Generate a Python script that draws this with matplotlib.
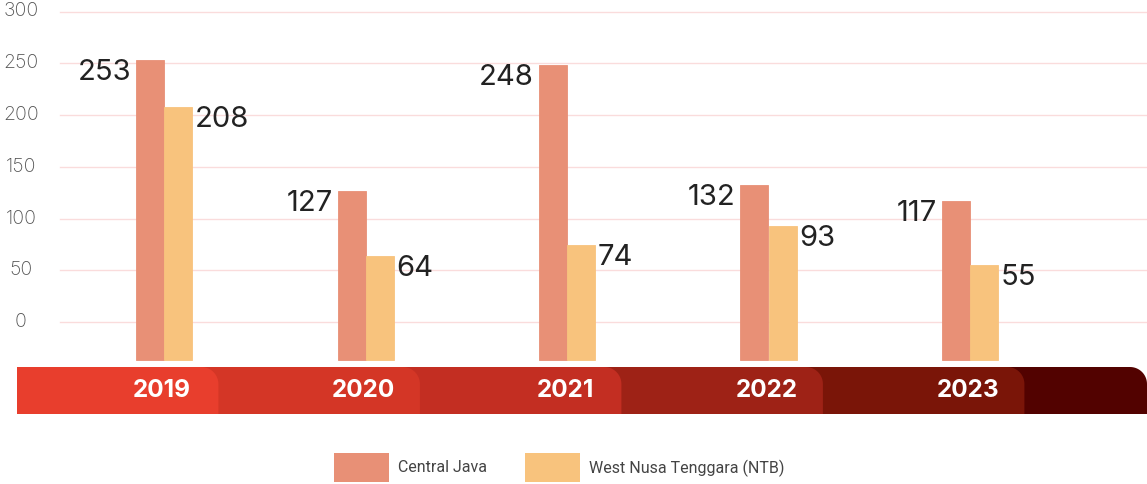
import numpy as np
import matplotlib
matplotlib.use('Agg')
import matplotlib.pyplot as plt
from matplotlib.patches import Rectangle, Polygon
import matplotlib.transforms as mtransforms

# ---- data ----
years = ['2019', '2020', '2021', '2022', '2023']
central_java = [253, 127, 248, 132, 117]
ntb = [208, 64, 74, 93, 55]
y_ticks = [0, 50, 100, 150, 200, 250, 300]
series_names = ['Central Java', 'West Nusa Tenggara (NTB)']

# ---- style ----
c_cj = '#E89076'
c_ntb = '#F8C37D'
band_colors = ['#E83E2D', '#D43626', '#C32E22', '#9E2216', '#7A1508', '#520200']
grid_c = '#FADCDC'

W, H = 1147, 484
fig = plt.figure(figsize=(W / 100, H / 100), dpi=100)
ax = fig.add_axes([0, 0, 1, 1])
ax.axis('off')

x0px, xstep = 164.0, 201.5      # pixel of first category, px per category
y0px, yscale = 322.0, 1.035     # pixel row of zero, px per unit
ax.set_xlim((0 - x0px) / xstep, (W - x0px) / xstep)
ax.set_ylim((y0px - H) / yscale, y0px / yscale)

blend = mtransforms.blended_transform_factory(ax.transAxes, ax.transData)

# gridlines + tick labels
for t in y_ticks:
    ax.axhline(t, xmin=60 / W, xmax=1, color=grid_c, lw=1, zorder=1)
    ax.text(21 / W, t, str(t), transform=blend, ha='center', va='center',
            fontsize=14, color='#555555', family='Inter', fontweight='light')

# bars
x = np.arange(len(years))
bw = 28 / xstep
base = -37
ax.bar(x - bw / 2, np.array(central_java) - base, bottom=base, width=bw,
       color=c_cj, edgecolor=c_cj, linewidth=0.6, zorder=3)
ax.bar(x + bw / 2, np.array(ntb) - base, bottom=base, width=bw,
       color=c_ntb, edgecolor=c_ntb, linewidth=0.6, zorder=3.1)

dx = 5 / xstep
for i in range(len(years)):
    ax.text(x[i] - bw - dx, central_java[i] + 1, str(central_java[i]),
            ha='right', va='top', fontsize=21, color='#222222', family='Inter',
            zorder=4)
    ax.text(x[i] + bw + dx * 0.6, ntb[i] + 1, str(ntb[i]),
            ha='left', va='top', fontsize=21, color='#222222', family='Inter',
            zorder=4)

# timeline band
ytop = (y0px - 367) / yscale
ybot = (y0px - 414) / yscale
xleft = (17 - x0px) / xstep
xright_end = (W - x0px) / xstep
rpx = 17
rx = rpx / xstep
ry = rpx / yscale


def tab(x1, color, z):
    th = np.linspace(0, np.pi / 2, 20)
    arc = np.column_stack([x1 - rx + rx * np.cos(th), ytop - ry + ry * np.sin(th)])
    pts = [(xleft, ybot), (x1, ybot)] + [tuple(p) for p in arc] + [(xleft, ytop)]
    ax.add_patch(Polygon(pts, closed=True, facecolor=color, edgecolor='none',
                         zorder=z))


edges = [i + 0.27 for i in range(len(years))] + [xright_end]
for k in range(len(edges) - 1, -1, -1):
    tab(edges[k], band_colors[k], 2 + (len(edges) - k) * 0.01)

ymid = (ytop + ybot) / 2
for i, yr in enumerate(years):
    ax.text(x[i] - 0.01, ymid, yr, ha='center', va='center', fontsize=17.5,
            fontweight='bold', color='white', family='Inter', zorder=5)

# legend
def fx(px):
    return px / W


def fy(py):
    return (H - py) / H


leg = [(334, c_cj, series_names[0]), (525, c_ntb, series_names[1])]
for px, col, name in leg:
    fig.patches.append(Rectangle((fx(px), fy(482)), 55 / W, 29 / H,
                                 transform=fig.transFigure, facecolor=col,
                                 edgecolor='none'))
    fig.text(fx(px + 64), fy(468), name, ha='left', va='center', fontsize=11.5,
             color='#444444', family='Roboto')

fig.savefig('out.png', dpi=100)
